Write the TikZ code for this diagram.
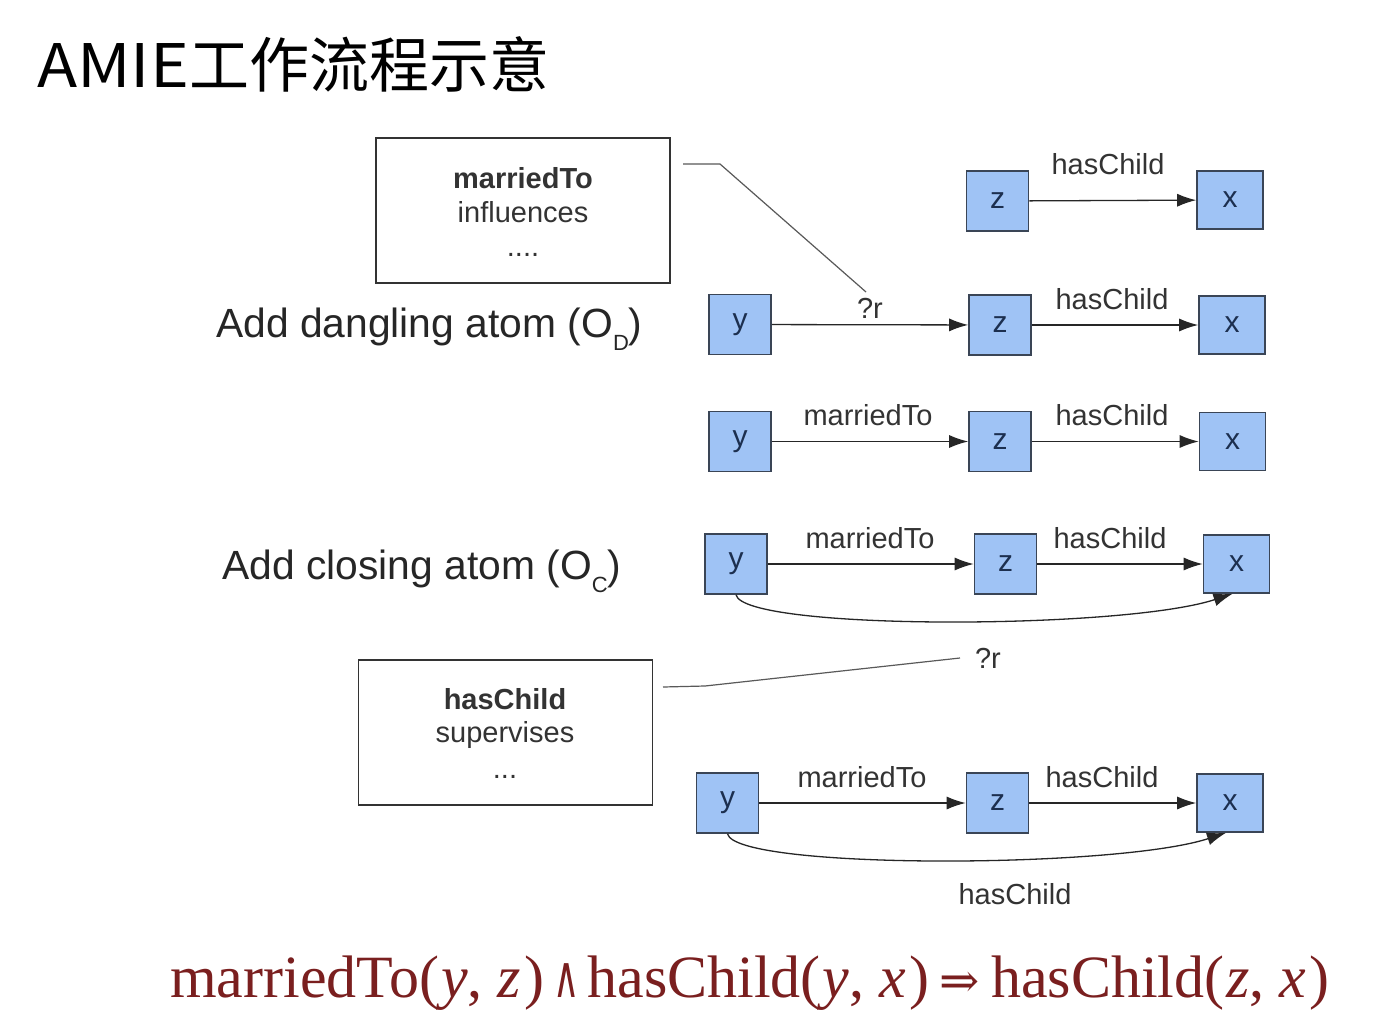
\documentclass[tikz,border=0pt]{standalone}
\usepackage{fontspec}
\setmainfont{Liberation Sans}
\newfontfamily\cjk{Noto Sans CJK SC}
\newfontfamily\serifr{Liberation Serif}
\newfontfamily\symf{DejaVu Serif}
\usetikzlibrary{arrows.meta}
\definecolor{nodeblue}{HTML}{9FC3F5}
\definecolor{nodeline}{HTML}{3A4556}
\definecolor{nodetext}{HTML}{1C2F4F}
\definecolor{formred}{HTML}{7A1F1F}
\definecolor{lblgray}{HTML}{333333}
\tikzset{
  vnode/.style={draw=nodeline, line width=1.6pt, fill=nodeblue, minimum width=62pt, minimum height=60pt, inner sep=0pt, text=nodetext, font=\fontsize{30}{30}\selectfont},
  xnode/.style={vnode, minimum width=66pt, minimum height=58pt},
  arr/.style={line width=1.3pt, draw=black!85, -{Latex[length=19pt,width=13pt]}},
  lbl/.style={anchor=base, inner sep=0pt, text=lblgray, font=\fontsize{29}{29}\selectfont},
  cand/.style={draw=black!80, line width=1.5pt, minimum width=294pt, minimum height=145pt, inner sep=0pt},
  btxt/.style={anchor=base, inner sep=0pt, text=lblgray, font=\fontsize{29}{29}\selectfont},
  thin/.style={line width=1.2pt, draw=black!65},
  optxt/.style={anchor=base west, inner sep=0pt, text=black!85, font=\fontsize{40.8}{40.8}\selectfont},
}
\begin{document}
\begin{tikzpicture}[x=1pt,y=-1pt]
\useasboundingbox (0,0) rectangle (1378,1030);
\fill[white] (0,0) rectangle (1378,1030);

% title
\node[anchor=base west, inner sep=0pt, font=\cjk\fontsize{60}{60}\selectfont] (title) at (37,88) {\scalebox{1.1}[1]{AMIE}工作流程示意};

% candidate boxes
\node[cand] (b1) at (523,210.5) {};
\node[btxt, font=\bfseries\fontsize{29}{29}\selectfont] (b1a) at (523,188) {marriedTo};
\node[btxt] (b1b) at (523,222) {influences};
\node[btxt] (b1c) at (523,256) {....};

\node[cand] (b2) at (505.5,732.5) {};
\node[btxt, font=\bfseries\fontsize{29}{29}\selectfont] (b2a) at (505,709) {hasChild};
\node[btxt] (b2b) at (505,742) {supervises};
\node[btxt] (b2c) at (505,778) {...};

% operator labels
\node[optxt] (opd) at (216,337) {Add dangling atom (O\raisebox{-0.32em}{\fontsize{22}{22}\selectfont D})};
\node[optxt] (opc) at (222,579) {Add closing atom (O\raisebox{-0.32em}{\fontsize{22}{22}\selectfont C})};

% row 1
\node[vnode] (z1) at (997.5,201) {z};
\node[xnode] (x1) at (1230,200) {x};
\draw[arr] (z1) -- (x1);
\node[lbl] (l1) at (1108,174) {hasChild};

% row 2
\node[vnode] (y2) at (740,324.5) {y};
\node[vnode] (z2) at (1000,325) {z};
\node[xnode] (x2) at (1232,325) {x};
\draw[arr] (y2) -- (z2);
\draw[arr] (z2) -- (x2);
\node[lbl] (l2a) at (870,318) {?r};
\node[lbl] (l2b) at (1112,309) {hasChild};

% row 3
\node[vnode] (y3) at (740,441.5) {y};
\node[vnode] (z3) at (1000,441.5) {z};
\node[xnode] (x3) at (1232.5,441.5) {x};
\draw[arr] (y3) -- (z3);
\draw[arr] (z3) -- (x3);
\node[lbl] (l3a) at (868,425) {marriedTo};
\node[lbl] (l3b) at (1112,425) {hasChild};

% row 4
\node[vnode] (y4) at (736,564) {y};
\node[vnode] (z4) at (1005.5,564) {z};
\node[xnode] (x4) at (1236.5,564) {x};
\draw[arr] (y4) -- (z4);
\draw[arr] (z4) -- (x4);
\node[lbl] (l4a) at (870,548) {marriedTo};
\node[lbl] (l4b) at (1110,548) {hasChild};
\draw[arr] (y4.south) .. controls +(8,36) and +(-110,36) .. ([xshift=-4pt]x4.south);

% row 5
\node[vnode] (y5) at (727.5,803) {y};
\node[vnode] (z5) at (997.5,803) {z};
\node[xnode] (x5) at (1230,803) {x};
\draw[arr] (y5) -- (z5);
\draw[arr] (z5) -- (x5);
\node[lbl] (l5a) at (862,787) {marriedTo};
\node[lbl] (l5b) at (1102,787) {hasChild};
\draw[arr] (y5.south) .. controls +(8,36) and +(-110,36) .. ([xshift=-4pt]x5.south);
\node[lbl] (l5c) at (1015,904) {hasChild};

% connectors from candidate boxes
\coordinate (c1s) at (683,164);
\coordinate (c1k) at (720,164);
\coordinate (c1e) at (866,292);
\draw[thin] (c1s) -- (c1k) -- (c1e);

\node[lbl] (r2) at (988,668) {?r};
\coordinate (c2s) at (663,687);
\coordinate (c2k) at (705,686);
\coordinate (c2e) at (960,658);
\draw[thin] (c2s) -- (c2k) -- (c2e);

% formula
\node[anchor=base west, inner sep=0pt, text=formred, font=\serifr\fontsize{60}{60}\selectfont] (rule) at (170,997)
  {marriedTo(\kern2pt\textit{y}, \textit{z}\kern3pt)\kern9pt\scalebox{0.62}[1]{\symf\fontsize{58}{58}\selectfont ∧}\kern8pt hasChild(\kern2pt\textit{y}, \textit{x}\kern3pt)\kern10pt{\symf\fontsize{48}{48}\selectfont ⇒}\kern12pt hasChild(\kern2pt\textit{z}, \textit{x}\kern3pt)};
\end{tikzpicture}
\end{document}
